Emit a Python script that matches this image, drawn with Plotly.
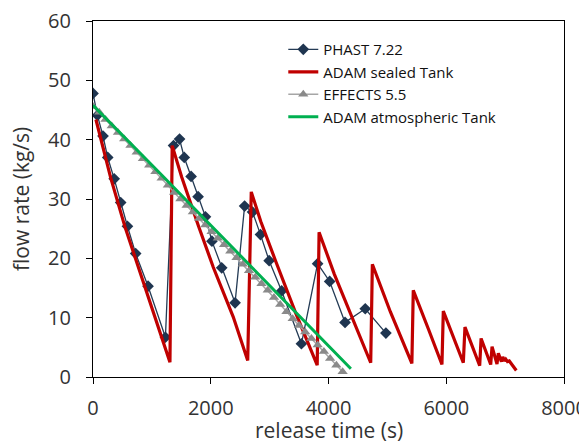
import plotly.graph_objects as go

# PHAST 7.22
phast_t = [0, 75, 170, 250, 360, 470, 585, 725, 935, 1230, 1368, 1470, 1550, 1666, 1785,
           1910, 2020, 2186, 2413, 2575, 2710, 2845, 2992, 3204, 3540, 3815, 4020, 4281, 4624, 4975]
phast_q = [47.8, 44.1, 40.6, 37.0, 33.4, 29.4, 25.4, 20.8, 15.3, 6.7, 39.0, 40.1, 37.0, 33.8, 30.4,
           27.0, 22.9, 18.4, 12.5, 28.8, 27.8, 24.0, 19.6, 14.5, 5.6, 19.1, 16.1, 9.2, 11.5, 7.4]

# ADAM sealed Tank
sealed_t = [50, 300, 543, 900, 1307, 1345, 1506, 1790, 2043, 2383, 2628, 2688, 2850, 3100, 3450,
            3808, 3840, 4100, 4400, 4717, 4745, 5050, 5416, 5440, 5700, 5927, 5950, 6290, 6318,
            6568, 6592, 6755, 6778, 6862, 6885, 6937, 6960, 6990, 7012, 7040, 7070, 7110, 7150, 7190]
sealed_q = [43.4, 33.6, 25.3, 14.8, 2.5, 39.0, 33.7, 25.5, 18.5, 10.1, 2.8, 31.2, 26.2, 19.6, 10.6,
            2.0, 24.4, 17.3, 10.0, 2.4, 19.0, 11.0, 2.3, 14.6, 8.0, 2.1, 11.1, 2.4, 8.4,
            1.9, 6.5, 2.1, 5.1, 2.2, 4.0, 2.6, 3.4, 2.7, 3.0, 2.6, 2.7, 2.2, 1.6, 1.1]

# EFFECTS 5.5
effects_t = [0, 106, 212, 318, 424, 530, 636, 742, 848, 954, 1060, 1166, 1272, 1378, 1484, 1590,
             1696, 1802, 1908, 2014, 2120, 2226, 2332, 2438, 2544, 2650, 2756, 2862, 2968, 3074,
             3180, 3286, 3392, 3498, 3604, 3710, 3816, 3922, 4028, 4134, 4240]
effects_q = [45.6, 44.6, 43.4, 42.3, 41.2, 40.1, 39.0, 37.9, 36.8, 35.7, 34.6, 33.5, 32.3, 31.1, 30.0,
             28.9, 27.8, 26.7, 25.6, 24.5, 23.4, 22.3, 21.2, 20.1, 19.0, 17.9, 16.8, 15.7, 14.6, 13.4,
             12.2, 11.0, 9.8, 8.7, 7.6, 6.5, 5.4, 4.3, 3.1, 2.0, 0.9]

# ADAM atmospheric Tank
atmos_t = [0, 600, 1200, 1800, 2497, 3000, 3403, 4000, 4380]
atmos_q = [45.8, 39.8, 33.7, 27.6, 20.5, 15.4, 11.3, 5.3, 1.4]

x_ticks = [0, 2000, 4000, 6000, 8000]
y_ticks = [0, 10, 20, 30, 40, 50, 60]
x_title = "release time (s)"
y_title = "flow rate (kg/s)"

fig = go.Figure()
fig.add_trace(go.Scatter(x=phast_t, y=phast_q, mode="lines+markers", name="PHAST 7.22",
                         line=dict(color="#243b55", width=1.3),
                         marker=dict(symbol="diamond", size=9, color="#1f3550")))
fig.add_trace(go.Scatter(x=sealed_t, y=sealed_q, mode="lines", name="ADAM sealed Tank",
                         line=dict(color="#c00000", width=3.2)))
fig.add_trace(go.Scatter(x=effects_t, y=effects_q, mode="lines+markers", name="EFFECTS 5.5",
                         line=dict(color="#a6a6a6", width=1.5),
                         marker=dict(symbol="triangle-up", size=9, color="#8a8a8a")))
fig.add_trace(go.Scatter(x=atmos_t, y=atmos_q, mode="lines", name="ADAM atmospheric Tank",
                         line=dict(color="#00b050", width=3)))

axis_font = dict(family="Open Sans", size=20, color="#333333")
title_font = dict(family="Open Sans", size=21, color="#333333")

fig.add_annotation(text=x_title, xref="paper", yref="paper", x=0.5, y=0,
                   xanchor="center", yanchor="middle", yshift=-53, showarrow=False,
                   font=title_font)
fig.add_annotation(text=y_title, xref="paper", yref="paper", x=0, y=0.5,
                   xanchor="center", yanchor="middle", xshift=-72, textangle=-90,
                   showarrow=False, font=title_font)

fig.update_layout(
    width=579, height=435,
    margin=dict(l=85, r=23, t=13, b=66),
    paper_bgcolor="white", plot_bgcolor="white",
    font=axis_font,
    legend=dict(x=0.404, y=0.966, xanchor="left", yanchor="top",
                bgcolor="rgba(0,0,0,0)", font=dict(family="Open Sans", size=15, color="#111111"),
                tracegroupgap=0),
    xaxis=dict(range=[0, 8000], tickvals=x_ticks, ticks="outside", ticklen=6, tickcolor="black",
               showline=True, linecolor="black", linewidth=1.2, mirror=True,
               showgrid=False, zeroline=False, tickfont=axis_font, automargin=False,
               ticklabeloverflow="allow", ticklabelstandoff=7),
    yaxis=dict(range=[0, 60], tickvals=y_ticks, ticks="outside", ticklen=6, tickcolor="black",
               showline=True, linecolor="black", linewidth=1.2, mirror=True,
               showgrid=False, zeroline=False, tickfont=axis_font, automargin=False,
               ticklabeloverflow="allow", ticklabelstandoff=11),
)

fig.write_html("out.html")
